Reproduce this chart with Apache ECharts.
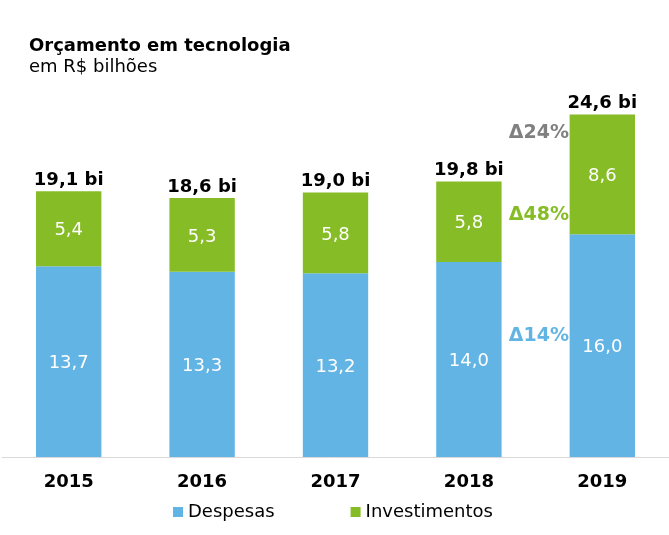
<!DOCTYPE html>
<html>
<head>
<meta charset="utf-8">
<script src="https://cdn.jsdelivr.net/npm/echarts@6/dist/echarts.min.js"></script>
<style>
html,body{margin:0;padding:0;background:#fff;}
#c{width:669px;height:535px;}
</style>
</head>
<body>
<div id="c"></div>
<script>
var years = ['2015', '2016', '2017', '2018', '2019'];
var despesas = [13.7, 13.3, 13.2, 14.0, 16.0];
var investimentos = [5.4, 5.3, 5.8, 5.8, 8.6];
var totais = [19.1, 18.6, 19.0, 19.8, 24.6];
var deltaLabels = ['Δ24%', 'Δ48%', 'Δ14%'];

var FONT = '"DejaVu Sans"';
var FS = 18;
var BLUE = '#62B4E4';
var GREEN = '#86BC25';
var GRAY = '#808080';

function fmt(v) { return v.toFixed(1).replace('.', ','); }

var chart = echarts.init(document.getElementById('c'), null, {renderer: 'canvas'});
chart.setOption({
  animation: false,
  textStyle: {fontFamily: FONT},
  title: {
    text: 'Orçamento em tecnologia',
    subtext: 'em R$ bilhões',
    left: 29, top: 37, padding: 0,
    itemGap: 3,
    textStyle: {fontFamily: FONT, fontSize: FS, fontWeight: 'bold', color: '#000'},
    subtextStyle: {fontFamily: FONT, fontSize: FS, color: '#000'}
  },
  legend: {
    data: ['Despesas', 'Investimentos'],
    left: 173, top: 503, padding: 0,
    itemWidth: 10, itemHeight: 10, itemGap: 76,
    icon: 'rect',
    textStyle: {fontFamily: FONT, fontSize: FS, color: '#000'}
  },
  grid: {left: 2, right: -2, top: 109, bottom: 78, containLabel: false},
  xAxis: {
    type: 'category',
    data: years,
    axisLine: {lineStyle: {color: '#d9d9d9', width: 1}},
    axisTick: {show: false},
    axisLabel: {fontFamily: FONT, fontSize: FS, fontWeight: 'bold', color: '#000', margin: 16}
  },
  yAxis: {type: 'value', min: 0, max: 25, show: false, splitLine: {show: false}},
  series: [
    {
      name: 'Despesas', type: 'bar', stack: 't', barWidth: '49%',
      itemStyle: {color: BLUE},
      label: {show: true, position: 'inside', offset: [0, 2], color: '#fff', fontFamily: FONT, fontSize: FS,
        formatter: function (p) { return fmt(p.value); }},
      data: despesas
    },
    {
      name: 'Investimentos', type: 'bar', stack: 't', barWidth: '49%',
      itemStyle: {color: GREEN},
      label: {show: true, position: 'inside', offset: [0, 2], color: '#fff', fontFamily: FONT, fontSize: FS,
        formatter: function (p) { return fmt(p.value); }},
      data: investimentos
    },
    {
      name: 'Total', type: 'scatter', symbolSize: 0, silent: true,
      itemStyle: {color: '#000', opacity: 1},
      label: {show: true, position: 'top', distance: 2, color: '#000', fontFamily: FONT,
        fontSize: FS, fontWeight: 'bold',
        formatter: function (p) { return fmt(p.value) + ' bi'; }},
      data: totais
    }
  ],
  graphic: [
    {type: 'text', right: 100, top: 124, style: {text: deltaLabels[0], fill: GRAY, font: 'bold 19px "DejaVu Sans"'}},
    {type: 'text', right: 100, top: 206, style: {text: deltaLabels[1], fill: GREEN, font: 'bold 19px "DejaVu Sans"'}},
    {type: 'text', right: 100, top: 327, style: {text: deltaLabels[2], fill: BLUE, font: 'bold 19px "DejaVu Sans"'}}
  ]
});
</script>
</body>
</html>
